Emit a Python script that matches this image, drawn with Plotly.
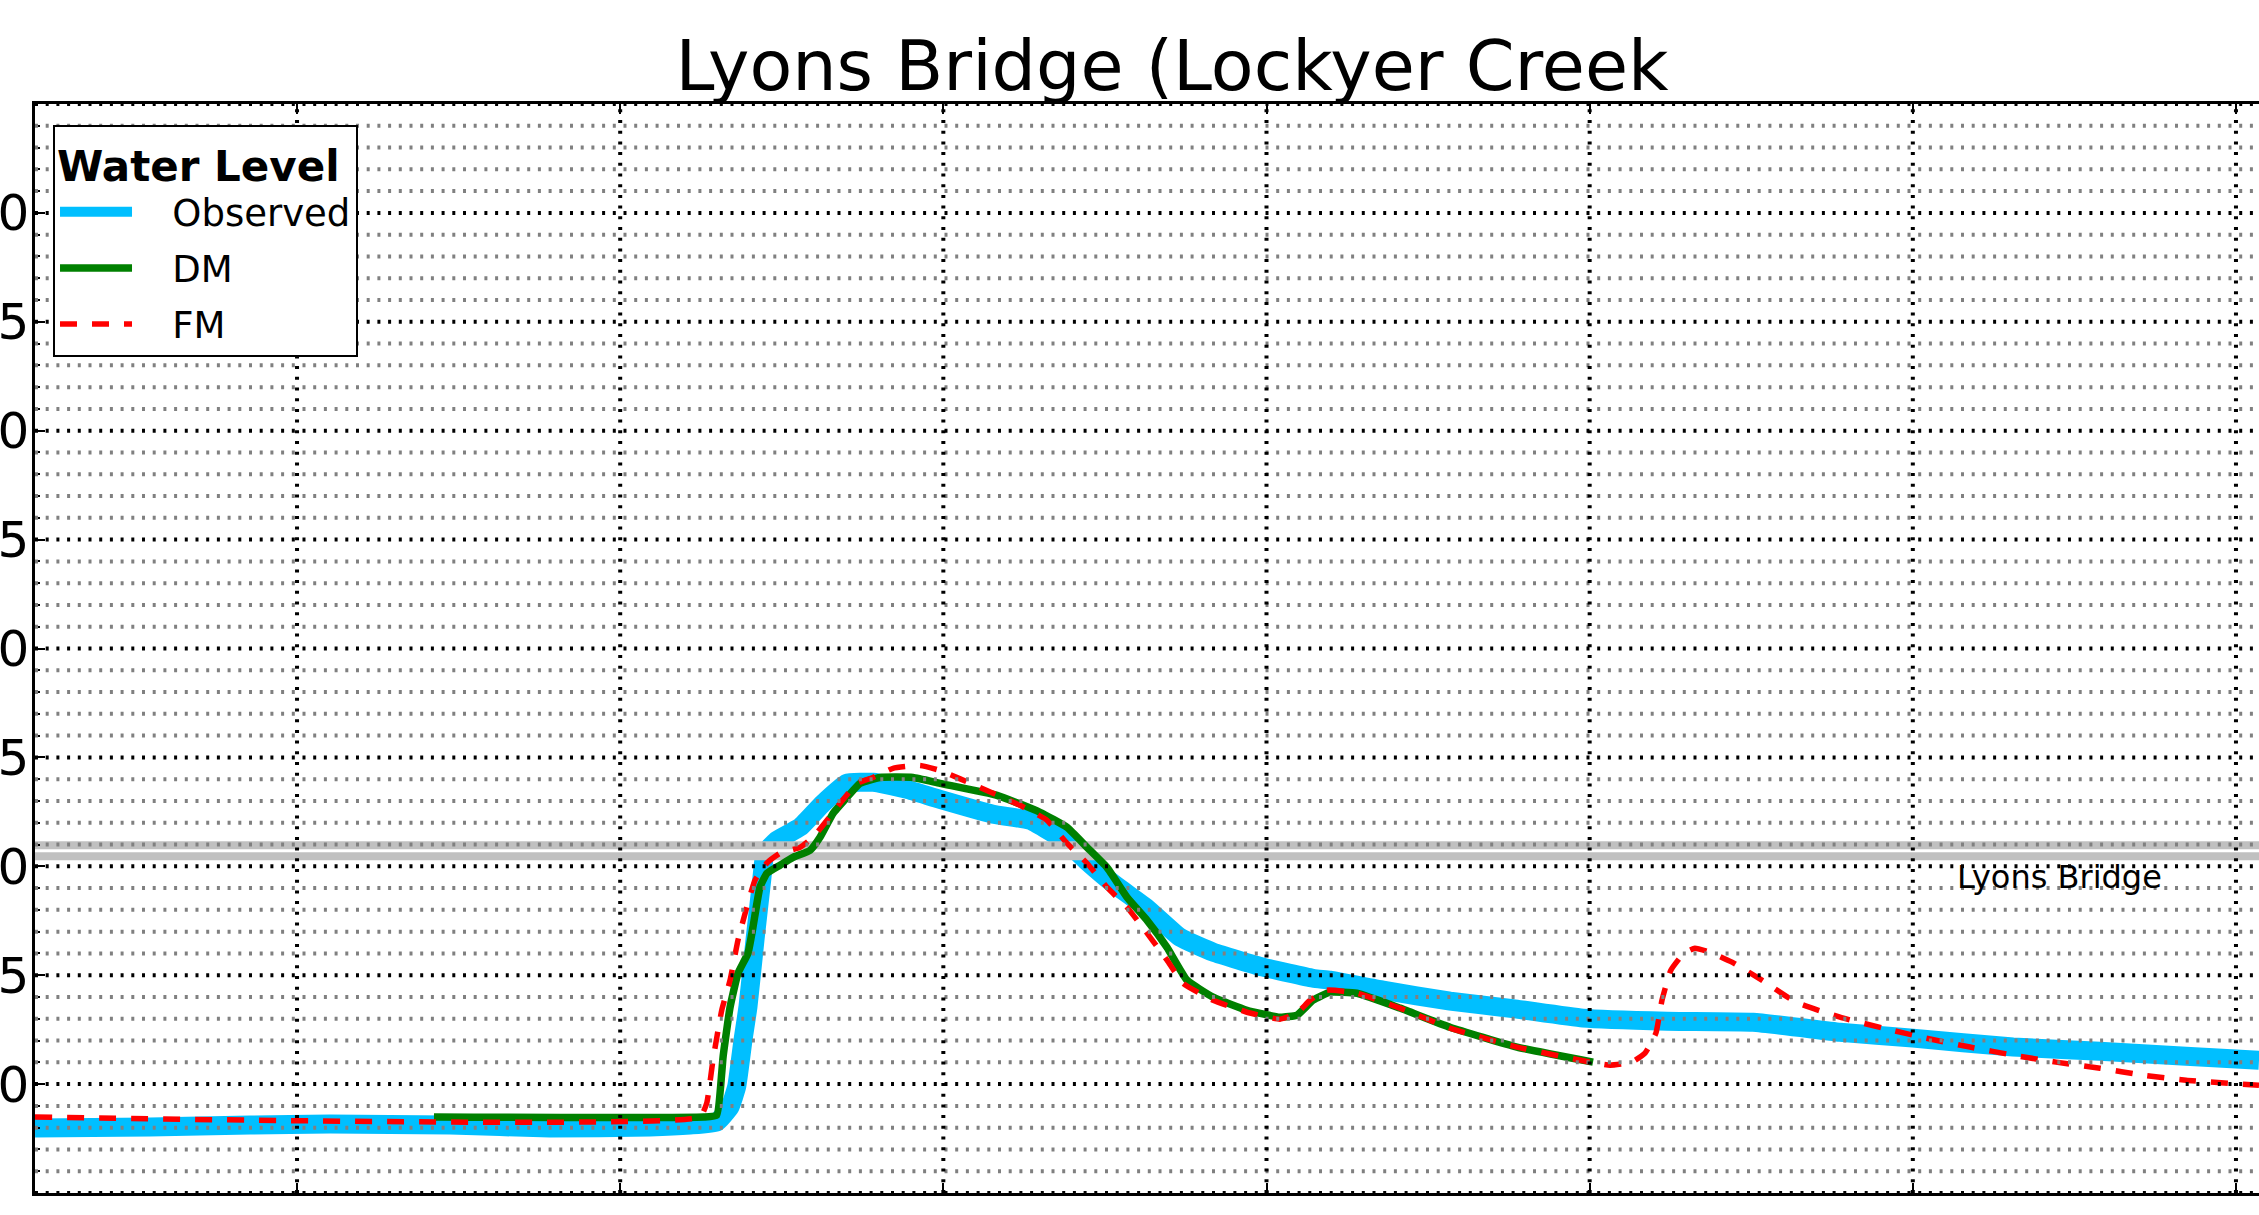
import plotly.graph_objects as go

# ---------------- data (hours since start, water level) ----------------
obs_hours = [4.54, 13.08, 20.51, 26.45, 35.36, 42.79, 50.22, 53.19, 55.17, 56.16, 56.65,
             57.12, 57.49, 58.01, 58.51, 58.76, 59.62, 61.36, 63.06, 64.82, 66.78, 67.30,
             69.30, 71.75, 75.69, 78.44, 81.18, 82.67, 84.60, 87.13, 89.58, 92.03, 95.74,
             99.45, 100.72, 104.65, 109.63, 114.60, 119.50, 125.74, 132.13, 138.59,
             144.01, 151.44, 157.90, 164.29, 169.71]
obs_level = [7.98, 8.03, 8.12, 8.17, 8.12, 7.98, 8.03, 8.12, 8.26, 8.96, 9.88,
             12.02, 13.55, 16.61, 19.36, 20.60, 21.19, 21.80, 22.89, 23.81, 23.86, 23.81,
             23.53, 23.07, 22.39, 22.11, 21.10, 20.23, 19.22, 18.07, 16.74, 16.06, 15.37,
             14.86, 14.77, 14.31, 13.81, 13.44, 13.03, 12.89, 12.84, 12.38,
             12.11, 11.70, 11.51, 11.28, 11.10]

dm_hours = [34.17, 54.23, 55.17, 55.54, 55.64, 56.16, 56.75, 57.49, 57.86, 58.38, 58.90,
            59.87, 60.84, 62.10, 62.84, 63.81, 64.85, 65.81, 67.30, 69.75, 71.75, 75.99,
            79.18, 81.18, 82.67, 84.15, 85.64, 87.13, 88.61, 90.10, 92.03, 94.55, 97.00,
            98.27, 99.45, 100.72, 102.72, 105.91, 109.63, 114.60, 120.25]
dm_level = [8.49, 8.49, 8.58, 10.50, 11.24, 13.53, 15.09, 16.01, 17.20, 19.04, 19.68,
            20.05, 20.41, 20.73, 21.33, 22.43, 23.17, 23.81, 24.08, 24.08, 23.81, 23.26,
            22.48, 21.79, 20.87, 19.95, 18.58, 17.52, 16.28, 14.77, 13.99, 13.39, 13.07,
            13.17, 13.85, 14.22, 14.17, 13.49, 12.61, 11.70, 11.01]

fm_hours = [4.54, 53.93, 54.43, 54.89, 55.54, 56.16, 56.75, 57.40, 58.01, 58.88, 59.87,
            61.36, 62.32, 63.36, 64.33, 65.59, 66.78, 68.26, 70.27, 71.75, 74.72, 77.69,
            79.70, 81.18, 82.67, 84.15, 85.64, 87.13, 88.61, 89.80, 92.03, 94.55, 97.00,
            98.27, 99.23, 100.49, 102.72, 105.91, 109.63, 114.60, 120.02, 121.51, 123.14,
            124.11, 124.92, 125.37, 126.03, 127.00, 127.82, 128.93, 130.57, 132.79, 135.32,
            138.59, 141.78, 144.98, 148.24, 151.44, 154.63, 157.90, 161.09, 164.29, 169.71]
fm_level = [8.49, 8.49, 9.13, 11.10, 13.39, 14.77, 16.61, 18.12, 19.36, 20.14, 20.60,
            20.87, 21.33, 22.11, 22.89, 23.81, 24.08, 24.50, 24.63, 24.40, 23.62, 22.80,
            22.11, 21.06, 20.14, 19.04, 18.12, 16.93, 15.69, 14.63, 13.85, 13.30, 12.98,
            13.26, 13.85, 14.31, 14.17, 13.49, 12.57, 11.70, 11.01, 10.87, 11.01,
            11.42, 12.34, 13.85, 15.23, 16.01, 16.24, 16.06, 15.60, 14.77, 13.76,
            13.07, 12.57, 12.11, 11.70, 11.33, 11.01, 10.73, 10.41, 10.18, 9.95]

BRIDGE_NAME = "Lyons Bridge"
BRIDGE_LEVEL = 20.71
BRIDGE_LABEL_HOUR = 147.1

X_RANGE = [4.54, 169.71]
Y_RANGE = [5, 55]
x_major = [24, 48, 72, 96, 120, 144, 168]
y_major_labels = [5, 10, 15, 20, 25, 30, 35, 40, 45, 50]
y_major_grid = [5, 10, 15, 20, 25, 30, 35, 40, 45, 50, 55]
y_minor = [v for v in range(5, 56) if v % 5 != 0]

FONT = "DejaVu Sans"
PAD = "\u00a0\u00a0\u00a0"
GRID_DASH = "3px,7.7px"

fig = go.Figure()

fig.add_trace(go.Scatter(x=obs_hours, y=obs_level, mode="lines", name=PAD + "Observed",
                         legendgroup="obs",
                         line=dict(color="#00BFFF", width=19, shape="spline", smoothing=0.4)))
fig.add_trace(go.Scatter(x=X_RANGE, y=[BRIDGE_LEVEL, BRIDGE_LEVEL], mode="lines",
                         showlegend=False, hoverinfo="skip",
                         line=dict(color="#C0C0C0", width=19)))
fig.add_trace(go.Scatter(x=X_RANGE, y=[BRIDGE_LEVEL, BRIDGE_LEVEL], mode="lines",
                         showlegend=False, hoverinfo="skip",
                         line=dict(color="white", width=3)))
fig.add_trace(go.Scatter(x=dm_hours, y=dm_level, mode="lines", name=PAD + "DM",
                         legendgroup="dm",
                         line=dict(color="#008000", width=7.5, shape="spline", smoothing=0.4)))
fig.add_trace(go.Scatter(x=fm_hours, y=fm_level, mode="lines", name=PAD + "FM",
                         legendgroup="fm",
                         line=dict(color="#FF0000", width=5.5, dash="17px,15px",
                                   shape="spline", smoothing=0.4)))

# grid lines drawn above the data (as in the original)
shapes = []
for v in y_minor:
    shapes.append(dict(type="line", xref="paper", x0=0, x1=1, yref="y", y0=v, y1=v,
                       layer="above", line=dict(color="#808080", width=4, dash=GRID_DASH)))
for v in y_major_grid:
    shapes.append(dict(type="line", xref="paper", x0=0, x1=1, yref="y", y0=v, y1=v,
                       layer="above", line=dict(color="black", width=4, dash=GRID_DASH)))
for v in x_major:
    shapes.append(dict(type="line", xref="x", x0=v, x1=v, yref="paper", y0=0, y1=1,
                       layer="above", line=dict(color="black", width=4, dash=GRID_DASH)))

fig.update_layout(
    width=2259, height=1215,
    margin=dict(l=35, r=0, t=104, b=22, autoexpand=False),
    paper_bgcolor="white", plot_bgcolor="white",
    font=dict(family=FONT, color="black"),
    title=dict(text="Lyons Bridge (Lockyer Creek", font=dict(family=FONT, size=70, color="black"),
               x=0.5188, xref="container", xanchor="center",
               y=0.946, yref="container", yanchor="middle"),
    shapes=shapes,
    showlegend=True,
    legend=dict(x=0.0081, y=0.981, xanchor="left", yanchor="top",
                bgcolor="white", bordercolor="black", borderwidth=2,
                font=dict(family=FONT, size=37, color="black"),
                title=dict(text="<b>Water Level</b>", font=dict(family=FONT, size=42)),
                itemwidth=72, traceorder="grouped", tracegroupgap=5),
    annotations=[dict(x=BRIDGE_LABEL_HOUR, y=BRIDGE_LEVEL, xref="x", yref="y",
                      text=BRIDGE_NAME, showarrow=False, xanchor="left", yanchor="top",
                      yshift=-5, font=dict(family=FONT, size=32, color="black"))],
)

fig.update_xaxes(range=X_RANGE, tickmode="array", tickvals=x_major, showticklabels=False,
                 showgrid=False, zeroline=False, showline=True, linecolor="black", linewidth=2.5,
                 mirror="ticks", ticks="inside", ticklen=10, tickwidth=1.5, tickcolor="black")
fig.update_yaxes(range=Y_RANGE, tickmode="array", tickvals=y_major_labels,
                 showgrid=False, zeroline=False, showline=True, linecolor="black", linewidth=2.5,
                 mirror=False, ticks="inside", ticklen=10, tickwidth=1.5, tickcolor="black",
                 tickfont=dict(family=FONT, size=50, color="black"), ticklabelstandoff=-7,
                 automargin=False,
                 minor=dict(tickvals=y_minor, ticks="inside", ticklen=5, tickwidth=1.5,
                            tickcolor="black", showgrid=False))

fig.write_html("out.html", config={"displayModeBar": False},
               post_script="document.body.style.margin='0';")
